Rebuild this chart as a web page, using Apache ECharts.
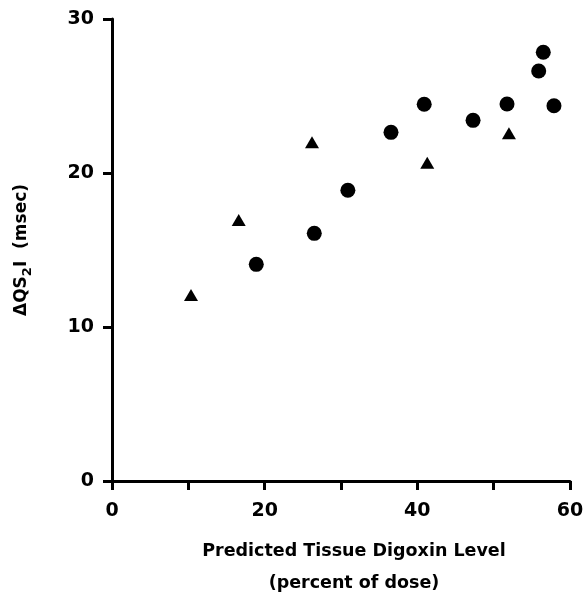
<!DOCTYPE html>
<html><head><meta charset="utf-8">
<script src="https://cdn.jsdelivr.net/npm/echarts@6/dist/echarts.min.js"></script>
<style>html,body{margin:0;padding:0;background:#fff}#c{width:584px;height:594px}</style>
</head><body><div id="c"></div>
<script>
const circleX = [18.9, 26.5, 30.9, 36.55, 40.9, 47.3, 51.75, 55.9, 56.5, 57.9];
const circleY = [14.07, 16.08, 18.88, 22.64, 24.46, 23.42, 24.48, 26.62, 27.84, 24.37];
const triX = [10.35, 16.6, 26.2, 41.3, 52.0];
const triY = [12.08, 16.95, 22.0, 20.67, 22.58];
const xTicks = [0, 20, 40, 60];
const yTicks = [0, 10, 20, 30];

const font = '"DejaVu Sans", "Liberation Sans", Arial, sans-serif';
const chart = echarts.init(document.getElementById('c'), null, {renderer: 'canvas'});
chart.setOption({
  backgroundColor: '#fff',
  animation: false,
  grid: {left: 112, right: 14, top: 19, bottom: 113, containLabel: false, outerBoundsMode: 'none'},
  xAxis: {
    type: 'value', min: 0, max: 60, interval: 20,
    axisLine: {show: true, lineStyle: {color: '#000', width: 3}},
    axisTick: {show: true, inside: false, length: 9, lineStyle: {color: '#000', width: 3}},
    minorTick: {show: true, splitNumber: 2, length: 9, lineStyle: {color: '#000', width: 3}},
    splitLine: {show: false},
    axisLabel: {color: '#000', fontFamily: font, fontWeight: 'bold', fontSize: 19, margin: 21,
      formatter: v => xTicks.includes(v) ? String(v) : ''},
    name: 'Predicted Tissue Digoxin Level\n(percent of dose)',
    nameLocation: 'middle', nameGap: 54,
    nameTextStyle: {color: '#000', fontFamily: font, fontWeight: 'bold', fontSize: 17.5, lineHeight: 32, padding: [0, 0, 0, 26]}
  },
  yAxis: {
    type: 'value', min: 0, max: 30, interval: 10,
    axisLine: {show: true, lineStyle: {color: '#000', width: 3}},
    axisTick: {show: true, inside: false, length: 9, lineStyle: {color: '#000', width: 3}},
    splitLine: {show: false},
    axisLabel: {color: '#000', fontFamily: font, fontWeight: 'bold', fontSize: 19, margin: 18,
      formatter: v => yTicks.includes(v) ? String(v) : ''},
    name: '{a|ΔQS}{s|2}{a|I  (msec)}',
    nameLocation: 'middle', nameGap: 78, nameRotate: 90,
    nameTextStyle: {color: '#000', fontFamily: font, fontWeight: 'bold', fontSize: 17,
      rich: {
        a: {color: '#000', fontFamily: font, fontWeight: 'bold', fontSize: 17},
        s: {color: '#000', fontFamily: font, fontWeight: 'bold', fontSize: 13, padding: [11,0,0,0]}
      }}
  },
  series: [
    {type: 'scatter', symbol: 'circle', symbolSize: 15, itemStyle: {color: '#000', opacity: 1},
      data: circleX.map((x, i) => [x, circleY[i]])},
    {type: 'scatter', symbol: 'triangle', symbolSize: [14, 12], itemStyle: {color: '#000', opacity: 1},
      data: triX.map((x, i) => [x, triY[i]])}
  ]
});
</script></body></html>
